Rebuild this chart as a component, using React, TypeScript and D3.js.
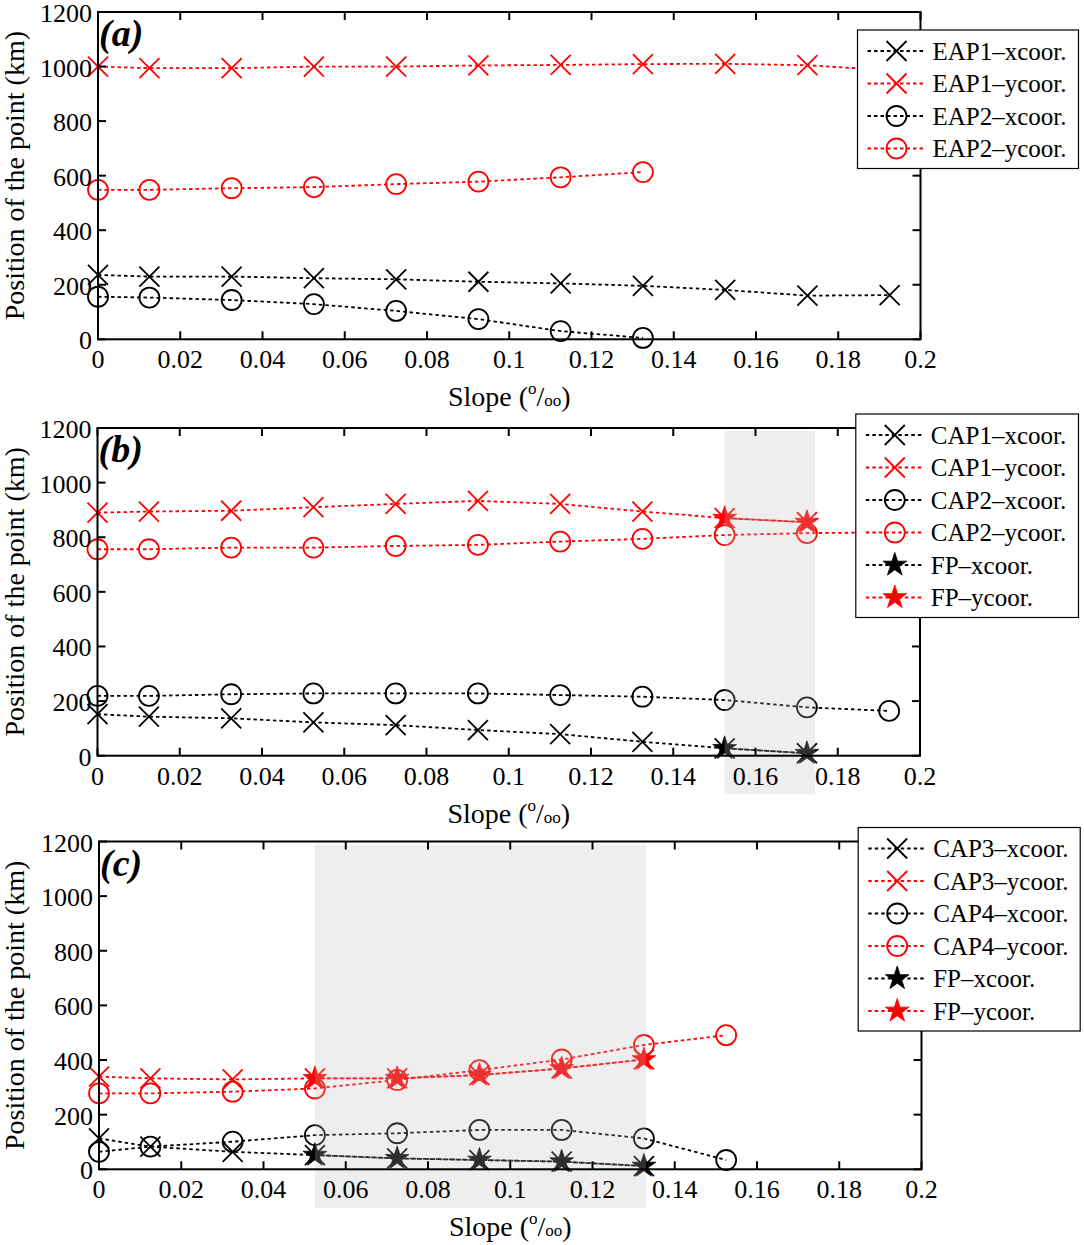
import React from 'react';
import * as d3 from 'd3';

// slope values (per mille) shared by all three panels
const slopes = [0, 0.0125, 0.0325, 0.0525, 0.0725, 0.0925, 0.1125, 0.1325, 0.1525, 0.1725, 0.1925];

// (a)
const eap1X = [236, 230, 230, 224, 220, 211, 205, 196, 181, 160, 162];
const eap1Y = [1000, 994, 994, 1000, 1000, 1004, 1006, 1009, 1010, 1005, 986];
const eap2X = [156, 153, 144, 129, 104, 74, 30, 5];
const eap2Y = [548, 548, 554, 558, 569, 578, 594, 613];

// (b)
const cap1X = [152, 143, 137, 122, 112, 94, 79, 51, 27, 9];
const cap1Y = [890, 894, 897, 910, 922, 933, 922, 894, 870, 855];
const cap2X = [219, 219, 225, 228, 228, 228, 222, 216, 204, 177, 164];
const cap2Y = [756, 756, 762, 762, 768, 772, 784, 794, 808, 815, 818];
const fpSlopesB = [0.1525, 0.1725];
const fpXB = [27, 9];
const fpYB = [870, 855];
const shadeB = [0.1525, 0.1745];

// (c)
const cap3X = [113, 83, 64, 52, 40, 34, 28, 12];
const cap3Y = [339, 333, 329, 333, 333, 345, 369, 402];
const cap4X = [64, 83, 101, 125, 132, 144, 144, 113, 34];
const cap4Y = [278, 278, 284, 296, 327, 363, 402, 455, 491];
const fpSlopesC = [0.0525, 0.0725, 0.0925, 0.1125, 0.1325];
const fpXC = [52, 40, 34, 28, 12];
const fpYC = [333, 333, 345, 369, 402];
const shadeC = [0.0525, 0.133];
const shadeY = [-142, 1189];

const xTicks = [0, 0.02, 0.04, 0.06, 0.08, 0.1, 0.12, 0.14, 0.16, 0.18, 0.2];
const yTicks = [0, 200, 400, 600, 800, 1000, 1200];

type Marker = 'x' | 'o' | 'star';
interface Series {
  name: string;
  xs: number[];
  ys: number[];
  color: string;
  marker: Marker;
}

const FONT = "'Liberation Serif', 'Times New Roman', serif";
const RED = '#ff0000';
const BLK = '#000000';
const DASH = '3.5 3';

const starPath = d3.symbol(d3.symbolStar, 175)() || '';

const MarkerShape: React.FC<{ m: Marker; color: string; x: number; y: number }> = ({ m, color, x, y }) => {
  if (m === 'x') {
    const r = 10;
    return (
      <path
        d={`M${x - r},${y - r}L${x + r},${y + r}M${x - r},${y + r}L${x + r},${y - r}`}
        stroke={color}
        strokeWidth={1.8}
        fill="none"
      />
    );
  }
  if (m === 'o') {
    return <circle cx={x} cy={y} r={10} stroke={color} strokeWidth={1.8} fill="none" />;
  }
  return <path d={starPath} transform={`translate(${x},${y})`} fill={color} stroke={color} strokeWidth={0.8} />;
};

interface PanelProps {
  top: number;
  bottom: number;
  left: number;
  right: number;
  label: string;
  series: Series[];
  shade?: number[];
  legendX: number;
  legendY: number;
  legendW: number;
}

const Panel: React.FC<PanelProps> = ({ top, bottom, left, right, label, series, shade, legendX, legendY, legendW }) => {
  const x = d3.scaleLinear().domain([0, 0.2]).range([left, right]);
  const y = d3.scaleLinear().domain([0, 1200]).range([bottom, top]);
  const tick = 8;
  const legendH = 41 + (series.length - 1) * 32.5;

  return (
    <g fontFamily={FONT}>
      {series.map((s) => {
        const pts = s.ys.map((v, i) => [x(s.xs[i]), y(v)] as [number, number]);
        const d = d3.line()(pts) || '';
        return (
          <g key={s.name}>
            <path d={d} fill="none" stroke={s.color} strokeWidth={1.8} strokeDasharray={DASH} />
            {pts.map((p, i) => (
              <MarkerShape key={i} m={s.marker} color={s.color} x={p[0]} y={p[1]} />
            ))}
          </g>
        );
      })}
      {shade && (
        <rect
          x={x(shade[0])}
          width={x(shade[1]) - x(shade[0])}
          y={y(shadeY[1])}
          height={y(shadeY[0]) - y(shadeY[1])}
          fill="#bdbdbd"
          fillOpacity={0.25}
        />
      )}
      <rect x={left} y={top} width={right - left} height={bottom - top} fill="none" stroke={BLK} strokeWidth={2} />
      {xTicks.map((t) => (
        <g key={`x${t}`}>
          <line x1={x(t)} x2={x(t)} y1={bottom} y2={bottom - tick} stroke={BLK} strokeWidth={2} />
          <line x1={x(t)} x2={x(t)} y1={top} y2={top + tick} stroke={BLK} strokeWidth={2} />
          <text x={x(t)} y={bottom + 29} textAnchor="middle" fontSize={26}>
            {String(t)}
          </text>
        </g>
      ))}
      {yTicks.map((t) => (
        <g key={`y${t}`}>
          <line x1={left} x2={left + tick} y1={y(t)} y2={y(t)} stroke={BLK} strokeWidth={2} />
          <line x1={right} x2={right - tick} y1={y(t)} y2={y(t)} stroke={BLK} strokeWidth={2} />
          <text x={left - 6} y={y(t) + 10} textAnchor="end" fontSize={26}>
            {String(t)}
          </text>
        </g>
      ))}
      <text x={left + 1} y={top + 34} fontSize={38} fontWeight="bold" fontStyle="italic">
        {label}
      </text>
      <text x={(left + right) / 2} y={bottom + 67} textAnchor="middle" fontSize={28}>
        Slope (<tspan fontSize={17} dy={-12}>o</tspan>
        <tspan dy={12}>/</tspan>
        <tspan fontSize={17}>oo</tspan>)
      </text>
      <text
        transform={`translate(24,${(top + bottom) / 2}) rotate(-90)`}
        textAnchor="middle"
        fontSize={28}
      >
        Position of the point (km)
      </text>
      <g>
        <rect x={legendX} y={legendY} width={legendW} height={legendH} fill="#fff" stroke={BLK} strokeWidth={1.2} />
        {series.map((s, i) => {
          const cy = legendY + 21 + i * 32.5;
          return (
            <g key={`l${s.name}`}>
              <line
                x1={legendX + 10}
                x2={legendX + 66}
                y1={cy}
                y2={cy}
                stroke={s.color}
                strokeWidth={1.8}
                strokeDasharray={DASH}
              />
              <MarkerShape m={s.marker} color={s.color} x={legendX + 39} y={cy} />
              <text x={legendX + 75} y={cy + 8.5} fontSize={25}>
                {s.name}
              </text>
            </g>
          );
        })}
      </g>
    </g>
  );
};

const seriesA: Series[] = [
  { name: 'EAP1–xcoor.', xs: slopes, ys: eap1X, color: BLK, marker: 'x' },
  { name: 'EAP1–ycoor.', xs: slopes, ys: eap1Y, color: RED, marker: 'x' },
  { name: 'EAP2–xcoor.', xs: slopes, ys: eap2X, color: BLK, marker: 'o' },
  { name: 'EAP2–ycoor.', xs: slopes, ys: eap2Y, color: RED, marker: 'o' },
];

const seriesB: Series[] = [
  { name: 'CAP1–xcoor.', xs: slopes, ys: cap1X, color: BLK, marker: 'x' },
  { name: 'CAP1–ycoor.', xs: slopes, ys: cap1Y, color: RED, marker: 'x' },
  { name: 'CAP2–xcoor.', xs: slopes, ys: cap2X, color: BLK, marker: 'o' },
  { name: 'CAP2–ycoor.', xs: slopes, ys: cap2Y, color: RED, marker: 'o' },
  { name: 'FP–xcoor.', xs: fpSlopesB, ys: fpXB, color: BLK, marker: 'star' },
  { name: 'FP–ycoor.', xs: fpSlopesB, ys: fpYB, color: RED, marker: 'star' },
];

const seriesC: Series[] = [
  { name: 'CAP3–xcoor.', xs: slopes, ys: cap3X, color: BLK, marker: 'x' },
  { name: 'CAP3–ycoor.', xs: slopes, ys: cap3Y, color: RED, marker: 'x' },
  { name: 'CAP4–xcoor.', xs: slopes, ys: cap4X, color: BLK, marker: 'o' },
  { name: 'CAP4–ycoor.', xs: slopes, ys: cap4Y, color: RED, marker: 'o' },
  { name: 'FP–xcoor.', xs: fpSlopesC, ys: fpXC, color: BLK, marker: 'star' },
  { name: 'FP–ycoor.', xs: fpSlopesC, ys: fpYC, color: RED, marker: 'star' },
];

export default function App() {
  return (
    <svg
      width={1084}
      height={1245}
      style={{ position: 'absolute', left: 0, top: 0, background: '#fff' }}
    >
      <Panel top={12} bottom={339.3} left={98} right={920.5} label="(a)" series={seriesA}
        legendX={857.5} legendY={30} legendW={221} />
      <Panel top={428} bottom={755.7} left={97.5} right={920} label="(b)" series={seriesB} shade={shadeB}
        legendX={855.8} legendY={414} legendW={222.7} />
      <Panel top={841.5} bottom={1169.3} left={99} right={921.5} label="(c)" series={seriesC} shade={shadeC}
        legendX={858.2} legendY={827.5} legendW={222} />
    </svg>
  );
}
